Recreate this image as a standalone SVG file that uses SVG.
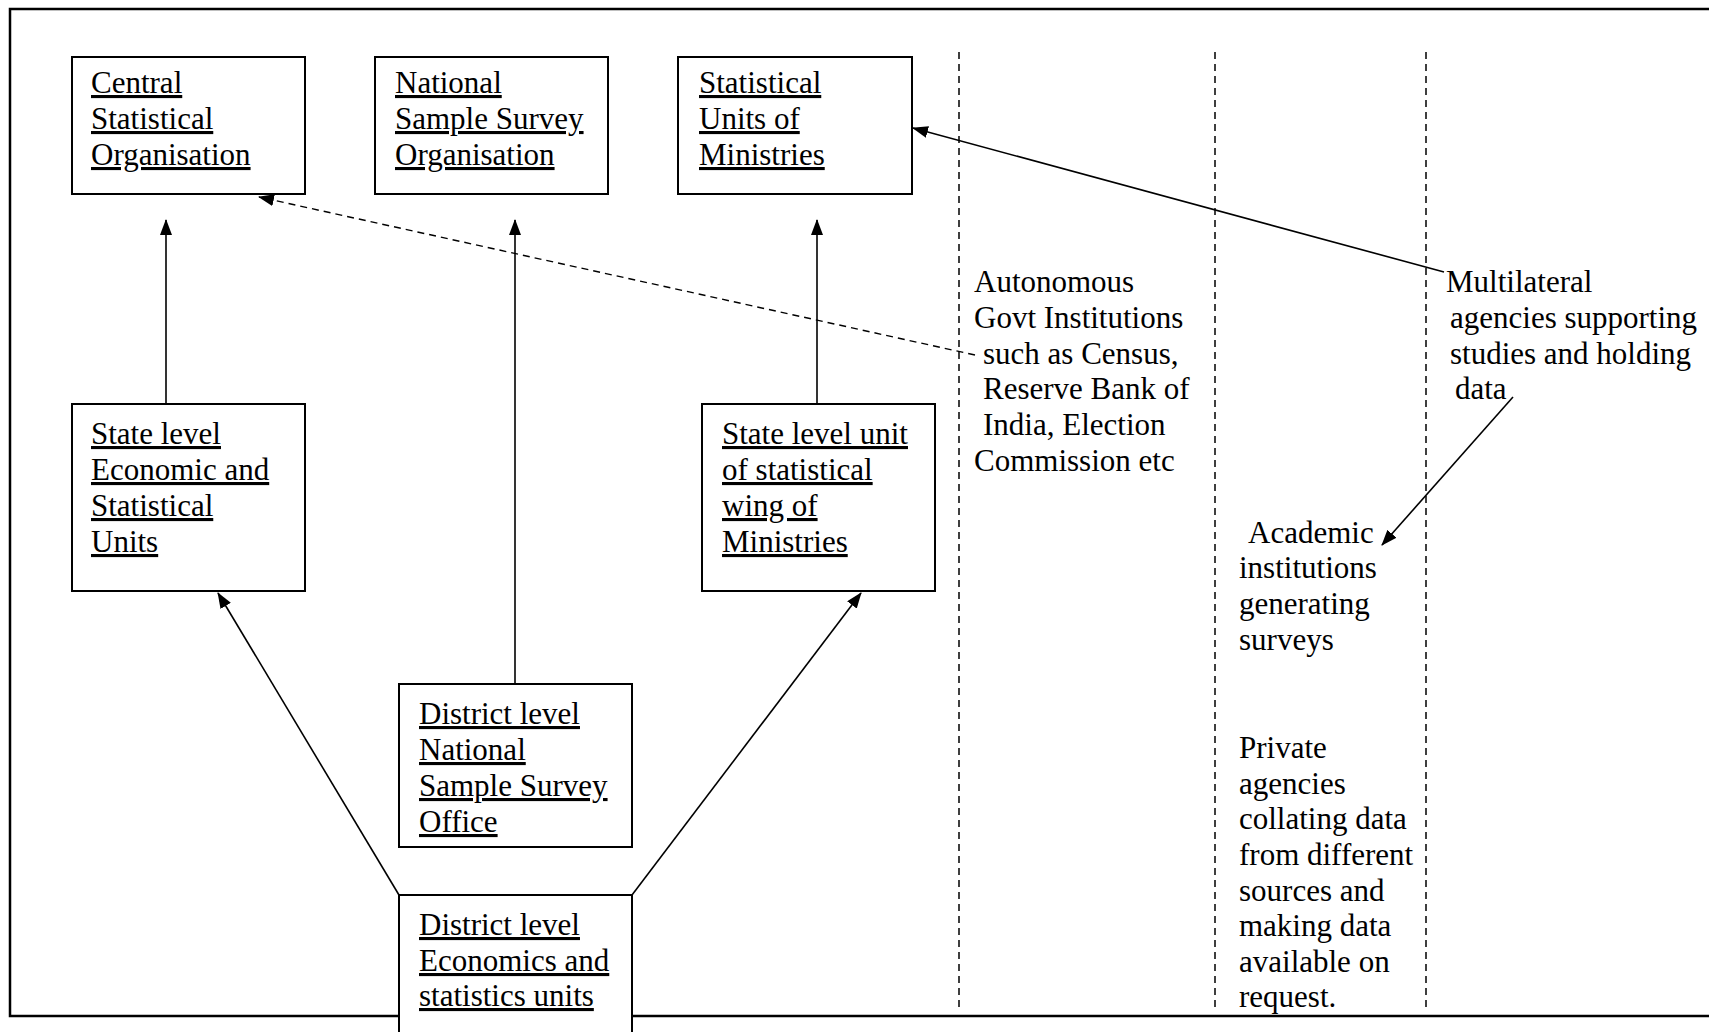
<svg xmlns="http://www.w3.org/2000/svg" width="1709" height="1032" viewBox="0 0 1709 1032">
<defs>
<marker id="ah" markerUnits="userSpaceOnUse" markerWidth="16" markerHeight="12" refX="15" refY="6" orient="auto">
<path d="M0,0 L16,6 L0,12 Z" fill="#000"/>
</marker>
<style>
.box{fill:#fff;stroke:#000;stroke-width:2}
.t{font-family:"Liberation Serif","Times New Roman",serif;font-size:31px;fill:#000}
.u{text-decoration:underline}
.ln{stroke:#000;stroke-width:1.6;fill:none}
.dash{stroke:#000;stroke-width:1.4;stroke-dasharray:7,5;fill:none}
.vd{stroke:#000;stroke-width:1.5;stroke-dasharray:7,5;fill:none}
</style>
</defs>
<rect width="1709" height="1032" fill="#fff"/>
<rect x="10" y="9" width="1710" height="1007" fill="none" stroke="#000" stroke-width="2.5"/>
<g id="dividers">
<line class="vd" x1="959" y1="52" x2="959" y2="1011"/>
<line class="vd" x1="1215" y1="52" x2="1215" y2="1011"/>
<line class="vd" x1="1426" y1="52" x2="1426" y2="1011"/>
</g>
<g id="connectors">
<line class="ln" x1="166" y1="404" x2="166" y2="220" marker-end="url(#ah)"/>
<line class="ln" x1="515" y1="684" x2="515" y2="220" marker-end="url(#ah)"/>
<line class="ln" x1="817" y1="404" x2="817" y2="220" marker-end="url(#ah)"/>
<line class="dash" x1="975" y1="355" x2="259" y2="197" marker-end="url(#ah)"/>
<line class="ln" x1="1444" y1="272" x2="913" y2="128" marker-end="url(#ah)"/>
<line class="ln" x1="1513" y1="397" x2="1382" y2="545" marker-end="url(#ah)"/>
<line class="ln" x1="399" y1="895" x2="218" y2="593" marker-end="url(#ah)"/>
<line class="ln" x1="632" y1="895" x2="861" y2="593" marker-end="url(#ah)"/>
</g>
<g id="cso">
<rect class="box" x="72" y="57" width="233" height="137"/>
<text class="t u" x="91" y="93">Central</text>
<text class="t u" x="91" y="129">Statistical</text>
<text class="t u" x="91" y="165">Organisation</text>
</g>
<g id="nsso">
<rect class="box" x="375" y="57" width="233" height="137"/>
<text class="t u" x="395" y="93">National</text>
<text class="t u" x="395" y="129">Sample Survey</text>
<text class="t u" x="395" y="165">Organisation</text>
</g>
<g id="sum">
<rect class="box" x="678" y="57" width="234" height="137"/>
<text class="t u" x="699" y="93">Statistical</text>
<text class="t u" x="699" y="129">Units of</text>
<text class="t u" x="699" y="165">Ministries</text>
</g>
<g id="state-econ">
<rect class="box" x="72" y="404" width="233" height="187"/>
<text class="t u" x="91" y="444">State level</text>
<text class="t u" x="91" y="480">Economic and</text>
<text class="t u" x="91" y="516">Statistical</text>
<text class="t u" x="91" y="552">Units</text>
</g>
<g id="state-unit">
<rect class="box" x="702" y="404" width="233" height="187"/>
<text class="t u" x="722" y="444">State level unit</text>
<text class="t u" x="722" y="480">of statistical</text>
<text class="t u" x="722" y="516">wing of</text>
<text class="t u" x="722" y="552">Ministries</text>
</g>
<g id="district-nsso">
<rect class="box" x="399" y="684" width="233" height="163"/>
<text class="t u" x="419" y="724">District level</text>
<text class="t u" x="419" y="760">National</text>
<text class="t u" x="419" y="796">Sample Survey</text>
<text class="t u" x="419" y="832">Office</text>
</g>
<g id="district-econ">
<rect class="box" x="399" y="895" width="233" height="150"/>
<text class="t u" x="419" y="935">District level</text>
<text class="t u" x="419" y="971">Economics and</text>
<text class="t u" x="419" y="1006">statistics units</text>
</g>
<g id="autonomous">
<text class="t" x="974" y="292">Autonomous</text>
<text class="t" x="974" y="328">Govt Institutions</text>
<text class="t" x="983" y="364">such as Census,</text>
<text class="t" x="983" y="399">Reserve Bank of</text>
<text class="t" x="983" y="435">India, Election</text>
<text class="t" x="974" y="471">Commission etc</text>
</g>
<g id="multilateral">
<text class="t" x="1446" y="292">Multilateral</text>
<text class="t" x="1450" y="328">agencies supporting</text>
<text class="t" x="1450" y="364">studies and holding</text>
<text class="t" x="1455" y="399">data</text>
</g>
<g id="academic">
<text class="t" x="1248" y="543">Academic</text>
<text class="t" x="1239" y="578">institutions</text>
<text class="t" x="1239" y="614">generating</text>
<text class="t" x="1239" y="650">surveys</text>
</g>
<g id="private">
<text class="t" x="1239" y="758">Private</text>
<text class="t" x="1239" y="794">agencies</text>
<text class="t" x="1239" y="829">collating data</text>
<text class="t" x="1239" y="865">from different</text>
<text class="t" x="1239" y="901">sources and</text>
<text class="t" x="1239" y="936">making data</text>
<text class="t" x="1239" y="972">available on</text>
<text class="t" x="1239" y="1007">request.</text>
</g>
</svg>
